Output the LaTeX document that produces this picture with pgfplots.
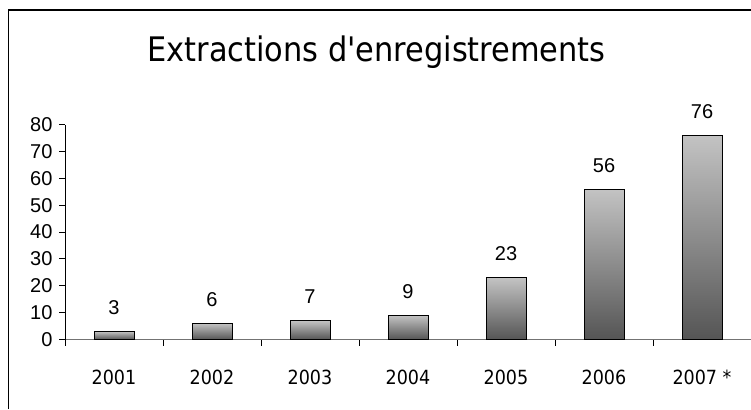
\documentclass[border=0pt]{standalone}
\usepackage{pgfplots}
\pgfplotsset{compat=1.18}
\usepackage{fontspec}
\setmainfont{Liberation Sans}
\newfontfamily\titlefont{DejaVu Sans Condensed}
\definecolor{bartop}{RGB}{195,195,195}
\definecolor{barbot}{RGB}{85,85,85}
\pgfplotsset{mybar/.style={ybar, bar width=40pt, bar shift=0pt, draw=black, line width=0.8pt, top color=bartop, bottom color=barbot,
    nodes near coords,
    every node near coord/.append style={font=\fontsize{20}{22}\selectfont, text=black, yshift=13pt}}}
\begin{document}
\begin{tikzpicture}[x=1pt,y=1pt]
\path[use as bounding box] (0,0) rectangle (751,409);
\draw[line width=1.1pt] (8.5,0) -- (8.5,399) -- (751,399);
\node[font=\titlefont\fontsize{33.8}{40}\selectfont, anchor=base] at (376.5,347) {Extractions d'enregistrements};
\begin{axis}[
  at={(65pt,69.5pt)}, anchor=south west,
  scale only axis, width=686pt, height=215pt,
  xmin=-0.5, xmax=6.5, ymin=0, ymax=80,
  clip=false,
  axis x line=bottom, axis y line=left,
  x axis line style={-, draw=black!55, line width=1pt},
  y axis line style={-, draw=black, line width=0.8pt},
  tick align=outside, major tick length=6pt,
  xtick={-0.5,0.5,...,5.5},
  xticklabels={2001,2002,2003,2004,2005,2006,2007 *},
  xticklabel style={xshift=49pt, yshift=-21pt, font=\titlefont\fontsize{19.5}{22}\selectfont},
  xtick style={draw=black, line width=0.8pt},
  ytick={0,10,...,80},
  yticklabel style={font=\fontsize{20}{22}\selectfont, xshift=-3pt},
  ytick style={draw=black, line width=0.8pt},
  /pgf/number format/assume math mode=true,
]
\addplot[mybar] coordinates {(0,3)};
\addplot[mybar] coordinates {(1,6)};
\addplot[mybar] coordinates {(2,7)};
\addplot[mybar] coordinates {(3,9)};
\addplot[mybar] coordinates {(4,23)};
\addplot[mybar] coordinates {(5,56)};
\addplot[mybar] coordinates {(6,76)};
\end{axis}
\end{tikzpicture}
\end{document}
